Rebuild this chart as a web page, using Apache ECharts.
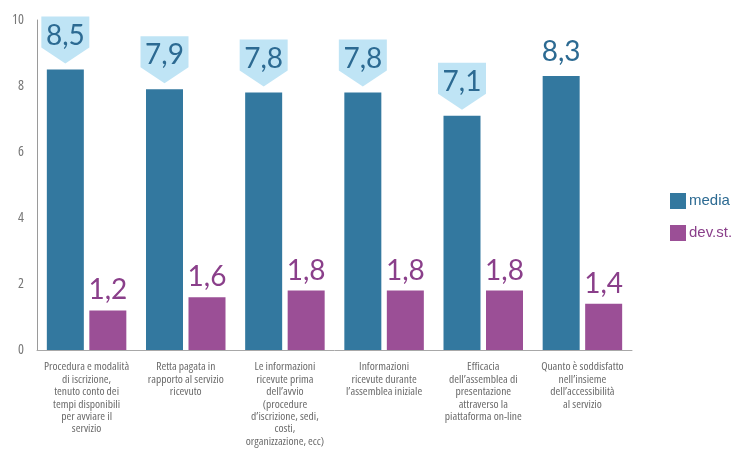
<!DOCTYPE html>
<html>
<head>
<meta charset="utf-8">
<script src="https://cdn.jsdelivr.net/npm/echarts@6/dist/echarts.min.js"></script>
<style>
  html, body { margin: 0; padding: 0; background: #ffffff; }
  #chart { width: 740px; height: 453px; }
</style>
</head>
<body>
<div id="chart"></div>
<script>
// Survey items (category labels, broken into lines as printed)
const categories = [
  'Procedura e modalità\ndi iscrizione,\ntenuto conto dei\ntempi disponibili\nper avviare il\nservizio',
  'Retta pagata in\nrapporto al servizio\nricevuto',
  'Le informazioni\nricevute prima\ndell\u2019avvio\n(procedure\nd\u2019iscrizione, sedi,\ncosti,\norganizzazione, ecc)',
  'Informazioni\nricevute durante\nl\u2019assemblea iniziale',
  'Efficacia\ndell\u2019assemblea di\npresentazione\nattraverso la\npiattaforma on-line',
  'Quanto è soddisfatto\nnell\u2019insieme\ndell\u2019accessibilità\nal servizio'
];
const mediaValues = [8.5, 7.9, 7.8, 7.8, 7.1, 8.3];
const devValues = [1.2, 1.6, 1.8, 1.8, 1.8, 1.4];
// which "media" values get the light-blue callout badge
const calloutShown = [true, true, true, true, true, false];
const yTicks = [0, 2, 4, 6, 8, 10];

const MEDIA_COLOR = '#33789f';
const DEV_COLOR = '#9b4f96';
const MEDIA_TEXT = '#2c6a92';
const DEV_TEXT = '#8a3f8a';
const CALLOUT_FILL = '#bfe4f5';
const NUM_FONT = 'Lato, "Noto Sans", sans-serif';
const NUM_SIZE = 28;
const NARROW_FONT = '"Open Sans", "DejaVu Sans Condensed", sans-serif';

const BAR_W = 37;
const BAR_GAP_PX = 5.5;
const fmt = v => v.toFixed(1).replace('.', ',');

const chart = echarts.init(document.getElementById('chart'), null, { renderer: 'canvas' });

const option = {
  backgroundColor: '#ffffff',
  animation: false,
  grid: { left: 37, right: 108, top: 20, bottom: 103, containLabel: false },
  legend: {
    data: [
      { name: 'media', textStyle: { color: MEDIA_TEXT } },
      { name: 'dev.st.', textStyle: { color: DEV_TEXT } }
    ],
    orient: 'vertical',
    left: 665,
    top: 188,
    itemWidth: 16,
    itemHeight: 16,
    itemGap: 16,
    icon: 'rect',
    textStyle: { fontFamily: '"Liberation Sans", Arial, sans-serif', fontSize: 15, padding: [0, 0, 0, -2] }
  },
  xAxis: {
    type: 'category',
    data: categories,
    axisLine: { show: true, lineStyle: { color: '#a8a8a8', width: 1 } },
    axisTick: { show: false },
    axisLabel: {
      interval: 0,
      margin: 11,
      color: '#6b6b6b',
      fontFamily: NARROW_FONT,
      fontWeight: 'condensed',
      fontSize: 11.5,
      lineHeight: 12.4,
      align: 'center'
    }
  },
  yAxis: {
    type: 'value',
    min: yTicks[0],
    max: yTicks[yTicks.length - 1],
    interval: 2,
    axisLine: { show: true, lineStyle: { color: '#9a9a9a', width: 1 } },
    axisTick: { show: false },
    splitLine: { show: false },
    axisLabel: {
      margin: 13,
      color: '#777777',
      fontFamily: NARROW_FONT,
      fontWeight: 'condensed',
      fontSize: 14
    }
  },
  series: [
    {
      name: 'media',
      type: 'bar',
      data: mediaValues,
      barWidth: BAR_W,
      barGap: (BAR_GAP_PX / BAR_W * 100) + '%',
      itemStyle: { color: MEDIA_COLOR },
      label: {
        show: true,
        position: 'top',
        distance: 10,
        color: MEDIA_TEXT,
        fontFamily: NUM_FONT,
        fontSize: NUM_SIZE,
        formatter: p => calloutShown[p.dataIndex] ? '' : fmt(p.value)
      }
    },
    {
      name: 'dev.st.',
      type: 'bar',
      data: devValues,
      barWidth: BAR_W,
      itemStyle: { color: DEV_COLOR },
      label: {
        show: true,
        position: 'top',
        distance: 6,
        color: DEV_TEXT,
        fontFamily: NUM_FONT,
        fontSize: NUM_SIZE,
        formatter: p => fmt(p.value)
      }
    },
    {
      // arrow-shaped badges carrying the "media" value
      name: 'callout',
      type: 'custom',
      clip: false,
      z: 5,
      data: mediaValues.map((v, i) => [i, v]),
      renderItem: function (params, api) {
        const idx = api.value(0);
        if (!calloutShown[idx]) return null;
        const pt = api.coord([idx, api.value(1)]);
        const cx = pt[0] - (BAR_W + BAR_GAP_PX) / 2;
        const tip = pt[1] - 6;
        const w = 48, rectH = 31, arrowH = 16;
        const top = tip - rectH - arrowH;
        return {
          type: 'group',
          children: [
            {
              type: 'polygon',
              shape: {
                points: [
                  [cx - w / 2, top], [cx + w / 2, top],
                  [cx + w / 2, top + rectH], [cx, tip],
                  [cx - w / 2, top + rectH]
                ]
              },
              style: { fill: CALLOUT_FILL }
            },
            {
              type: 'text',
              style: {
                text: fmt(api.value(1)),
                x: cx,
                y: top + 19,
                align: 'center',
                verticalAlign: 'middle',
                fill: MEDIA_TEXT,
                font: NUM_SIZE + 'px ' + NUM_FONT
              }
            }
          ]
        };
      }
    }
  ]
};

chart.setOption(option);
</script>
</body>
</html>
